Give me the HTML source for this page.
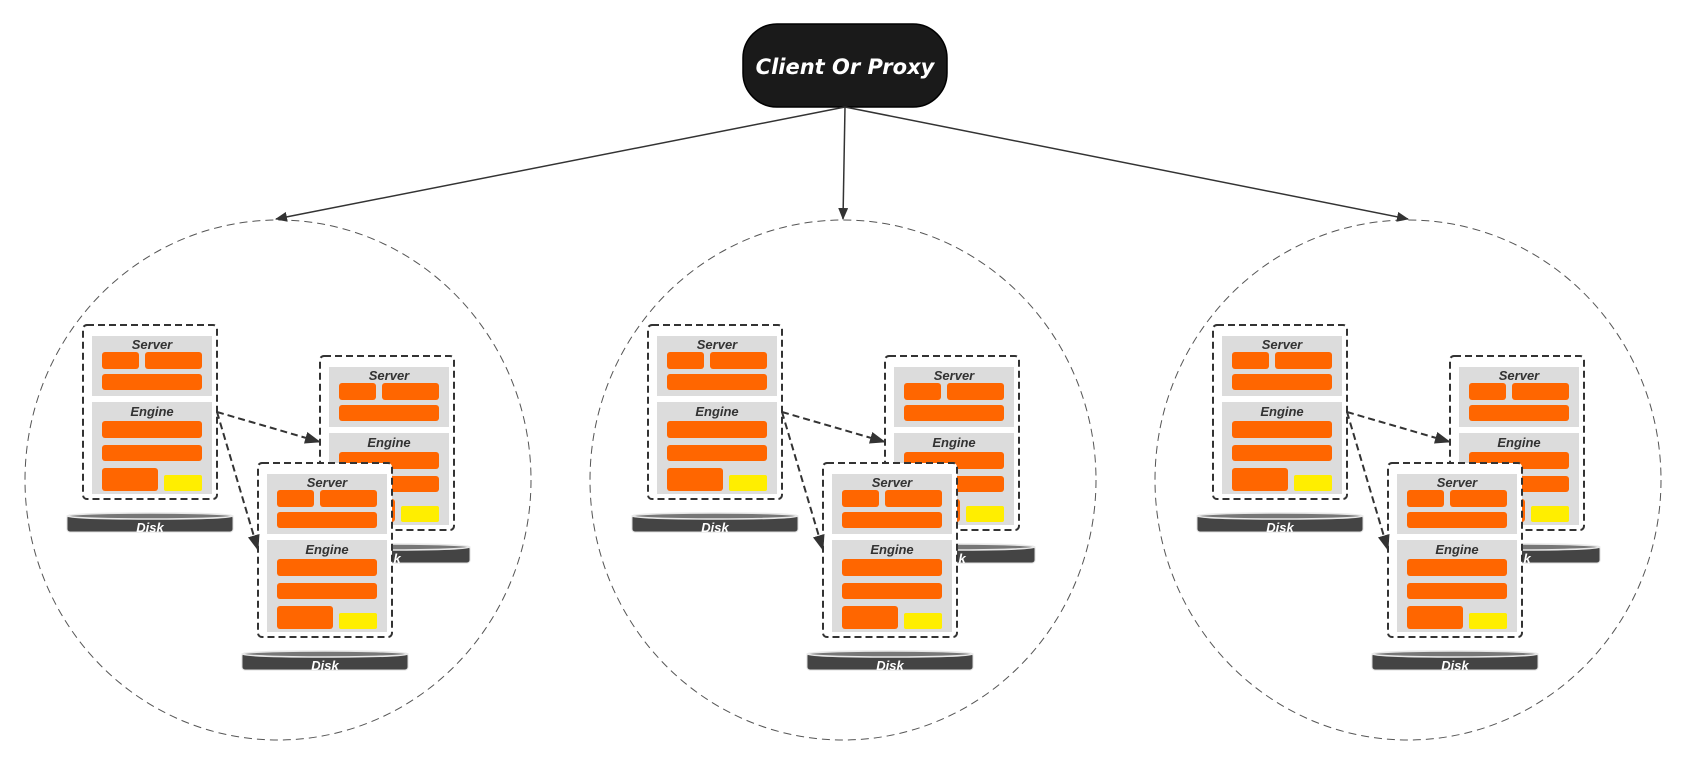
<!DOCTYPE html>
<html><head><meta charset="utf-8"><style>
html,body{margin:0;padding:0;background:#fff;}
svg{display:block;}
.t{font-family:"Liberation Sans",sans-serif;font-weight:bold;font-style:italic;font-size:13px;fill:#333;text-anchor:middle;}
.d{font-family:"Liberation Sans",sans-serif;font-weight:bold;font-style:italic;font-size:13px;fill:#fff;text-anchor:middle;}
.o{fill:#ff6600;}
.y{fill:#ffee00;}
.p{fill:#dcdcdc;}
.b{fill:#fff;stroke:#333;stroke-width:2;stroke-dasharray:7 4;}
.dk{fill:#444;stroke:#ddd;stroke-width:1;}
.rim{fill:#777;stroke:#e8e8e8;stroke-width:1.5;}
</style></head><body>
<svg width="1683" height="765" viewBox="0 0 1683 765" xmlns="http://www.w3.org/2000/svg">
<defs>
<marker id="a" markerWidth="12" markerHeight="10" refX="11" refY="5" orient="auto" markerUnits="userSpaceOnUse"><path d="M0,0 L12,5 L0,10 Z" fill="#333"/></marker>
<marker id="a2" markerWidth="16" markerHeight="12" refX="15" refY="6" orient="auto" markerUnits="userSpaceOnUse"><path d="M0,0 L16,6 L0,12 Z" fill="#333"/></marker>
</defs>

<ellipse cx="278" cy="480" rx="253" ry="260" fill="none" stroke="#555" stroke-width="1" stroke-dasharray="8 5"/>
<ellipse cx="843" cy="480" rx="253" ry="260" fill="none" stroke="#555" stroke-width="1" stroke-dasharray="8 5"/>
<ellipse cx="1408" cy="480" rx="253" ry="260" fill="none" stroke="#555" stroke-width="1" stroke-dasharray="8 5"/>

<rect x="743" y="24" width="204" height="83" rx="34" fill="#1a1a1a" stroke="#000" stroke-width="1.5"/>
<text x="845" y="74" font-family="DejaVu Sans, sans-serif" font-weight="bold" font-style="italic" font-size="21" fill="#fff" text-anchor="middle">Client Or Proxy</text>

<line x1="845" y1="107" x2="276" y2="219" stroke="#333" stroke-width="1.5" marker-end="url(#a)"/>
<line x1="845" y1="107" x2="843" y2="219" stroke="#333" stroke-width="1.5" marker-end="url(#a)"/>
<line x1="845" y1="107" x2="1408" y2="219" stroke="#333" stroke-width="1.5" marker-end="url(#a)"/>

<g transform="translate(83,325)">
<g><rect class="dk" x="-16" y="190" width="166" height="17" rx="3"/><ellipse class="rim" cx="67" cy="191" rx="83" ry="3"/><text class="d" x="67" y="207">Disk</text></g>
<g><rect class="b" x="0" y="0" width="134" height="174" rx="4"/><rect class="p" x="9" y="11" width="120" height="60"/><text class="t" x="69" y="24">Server</text><rect class="o" x="19" y="27" width="37" height="17" rx="3"/><rect class="o" x="62" y="27" width="57" height="17" rx="3"/><rect class="o" x="19" y="49" width="100" height="16" rx="3"/><rect class="p" x="9" y="77" width="120" height="92"/><text class="t" x="69" y="91">Engine</text><rect class="o" x="19" y="96" width="100" height="17" rx="3"/><rect class="o" x="19" y="120" width="100" height="16" rx="3"/><rect class="o" x="19" y="143" width="56" height="23" rx="3"/><rect class="y" x="81" y="150" width="38" height="16" rx="2"/></g>
<g transform="translate(237,31)"><rect class="dk" x="-16" y="190" width="166" height="17" rx="3"/><ellipse class="rim" cx="67" cy="191" rx="83" ry="3"/><text class="d" x="67" y="207">Disk</text><rect class="b" x="0" y="0" width="134" height="174" rx="4"/><rect class="p" x="9" y="11" width="120" height="60"/><text class="t" x="69" y="24">Server</text><rect class="o" x="19" y="27" width="37" height="17" rx="3"/><rect class="o" x="62" y="27" width="57" height="17" rx="3"/><rect class="o" x="19" y="49" width="100" height="16" rx="3"/><rect class="p" x="9" y="77" width="120" height="92"/><text class="t" x="69" y="91">Engine</text><rect class="o" x="19" y="96" width="100" height="17" rx="3"/><rect class="o" x="19" y="120" width="100" height="16" rx="3"/><rect class="o" x="19" y="143" width="56" height="23" rx="3"/><rect class="y" x="81" y="150" width="38" height="16" rx="2"/></g>
<g transform="translate(175,138)"><rect class="dk" x="-16" y="190" width="166" height="17" rx="3"/><ellipse class="rim" cx="67" cy="191" rx="83" ry="3"/><text class="d" x="67" y="207">Disk</text><rect class="b" x="0" y="0" width="134" height="174" rx="4"/><rect class="p" x="9" y="11" width="120" height="60"/><text class="t" x="69" y="24">Server</text><rect class="o" x="19" y="27" width="37" height="17" rx="3"/><rect class="o" x="62" y="27" width="57" height="17" rx="3"/><rect class="o" x="19" y="49" width="100" height="16" rx="3"/><rect class="p" x="9" y="77" width="120" height="92"/><text class="t" x="69" y="91">Engine</text><rect class="o" x="19" y="96" width="100" height="17" rx="3"/><rect class="o" x="19" y="120" width="100" height="16" rx="3"/><rect class="o" x="19" y="143" width="56" height="23" rx="3"/><rect class="y" x="81" y="150" width="38" height="16" rx="2"/></g>
<line x1="134" y1="87" x2="237" y2="117" stroke="#333" stroke-width="2" stroke-dasharray="7 4" marker-end="url(#a2)"/>
<line x1="134" y1="87" x2="175" y2="225" stroke="#333" stroke-width="2" stroke-dasharray="7 4" marker-end="url(#a2)"/>
</g>

<g transform="translate(648,325)">
<g><rect class="dk" x="-16" y="190" width="166" height="17" rx="3"/><ellipse class="rim" cx="67" cy="191" rx="83" ry="3"/><text class="d" x="67" y="207">Disk</text></g>
<g><rect class="b" x="0" y="0" width="134" height="174" rx="4"/><rect class="p" x="9" y="11" width="120" height="60"/><text class="t" x="69" y="24">Server</text><rect class="o" x="19" y="27" width="37" height="17" rx="3"/><rect class="o" x="62" y="27" width="57" height="17" rx="3"/><rect class="o" x="19" y="49" width="100" height="16" rx="3"/><rect class="p" x="9" y="77" width="120" height="92"/><text class="t" x="69" y="91">Engine</text><rect class="o" x="19" y="96" width="100" height="17" rx="3"/><rect class="o" x="19" y="120" width="100" height="16" rx="3"/><rect class="o" x="19" y="143" width="56" height="23" rx="3"/><rect class="y" x="81" y="150" width="38" height="16" rx="2"/></g>
<g transform="translate(237,31)"><rect class="dk" x="-16" y="190" width="166" height="17" rx="3"/><ellipse class="rim" cx="67" cy="191" rx="83" ry="3"/><text class="d" x="67" y="207">Disk</text><rect class="b" x="0" y="0" width="134" height="174" rx="4"/><rect class="p" x="9" y="11" width="120" height="60"/><text class="t" x="69" y="24">Server</text><rect class="o" x="19" y="27" width="37" height="17" rx="3"/><rect class="o" x="62" y="27" width="57" height="17" rx="3"/><rect class="o" x="19" y="49" width="100" height="16" rx="3"/><rect class="p" x="9" y="77" width="120" height="92"/><text class="t" x="69" y="91">Engine</text><rect class="o" x="19" y="96" width="100" height="17" rx="3"/><rect class="o" x="19" y="120" width="100" height="16" rx="3"/><rect class="o" x="19" y="143" width="56" height="23" rx="3"/><rect class="y" x="81" y="150" width="38" height="16" rx="2"/></g>
<g transform="translate(175,138)"><rect class="dk" x="-16" y="190" width="166" height="17" rx="3"/><ellipse class="rim" cx="67" cy="191" rx="83" ry="3"/><text class="d" x="67" y="207">Disk</text><rect class="b" x="0" y="0" width="134" height="174" rx="4"/><rect class="p" x="9" y="11" width="120" height="60"/><text class="t" x="69" y="24">Server</text><rect class="o" x="19" y="27" width="37" height="17" rx="3"/><rect class="o" x="62" y="27" width="57" height="17" rx="3"/><rect class="o" x="19" y="49" width="100" height="16" rx="3"/><rect class="p" x="9" y="77" width="120" height="92"/><text class="t" x="69" y="91">Engine</text><rect class="o" x="19" y="96" width="100" height="17" rx="3"/><rect class="o" x="19" y="120" width="100" height="16" rx="3"/><rect class="o" x="19" y="143" width="56" height="23" rx="3"/><rect class="y" x="81" y="150" width="38" height="16" rx="2"/></g>
<line x1="134" y1="87" x2="237" y2="117" stroke="#333" stroke-width="2" stroke-dasharray="7 4" marker-end="url(#a2)"/>
<line x1="134" y1="87" x2="175" y2="225" stroke="#333" stroke-width="2" stroke-dasharray="7 4" marker-end="url(#a2)"/>
</g>

<g transform="translate(1213,325)">
<g><rect class="dk" x="-16" y="190" width="166" height="17" rx="3"/><ellipse class="rim" cx="67" cy="191" rx="83" ry="3"/><text class="d" x="67" y="207">Disk</text></g>
<g><rect class="b" x="0" y="0" width="134" height="174" rx="4"/><rect class="p" x="9" y="11" width="120" height="60"/><text class="t" x="69" y="24">Server</text><rect class="o" x="19" y="27" width="37" height="17" rx="3"/><rect class="o" x="62" y="27" width="57" height="17" rx="3"/><rect class="o" x="19" y="49" width="100" height="16" rx="3"/><rect class="p" x="9" y="77" width="120" height="92"/><text class="t" x="69" y="91">Engine</text><rect class="o" x="19" y="96" width="100" height="17" rx="3"/><rect class="o" x="19" y="120" width="100" height="16" rx="3"/><rect class="o" x="19" y="143" width="56" height="23" rx="3"/><rect class="y" x="81" y="150" width="38" height="16" rx="2"/></g>
<g transform="translate(237,31)"><rect class="dk" x="-16" y="190" width="166" height="17" rx="3"/><ellipse class="rim" cx="67" cy="191" rx="83" ry="3"/><text class="d" x="67" y="207">Disk</text><rect class="b" x="0" y="0" width="134" height="174" rx="4"/><rect class="p" x="9" y="11" width="120" height="60"/><text class="t" x="69" y="24">Server</text><rect class="o" x="19" y="27" width="37" height="17" rx="3"/><rect class="o" x="62" y="27" width="57" height="17" rx="3"/><rect class="o" x="19" y="49" width="100" height="16" rx="3"/><rect class="p" x="9" y="77" width="120" height="92"/><text class="t" x="69" y="91">Engine</text><rect class="o" x="19" y="96" width="100" height="17" rx="3"/><rect class="o" x="19" y="120" width="100" height="16" rx="3"/><rect class="o" x="19" y="143" width="56" height="23" rx="3"/><rect class="y" x="81" y="150" width="38" height="16" rx="2"/></g>
<g transform="translate(175,138)"><rect class="dk" x="-16" y="190" width="166" height="17" rx="3"/><ellipse class="rim" cx="67" cy="191" rx="83" ry="3"/><text class="d" x="67" y="207">Disk</text><rect class="b" x="0" y="0" width="134" height="174" rx="4"/><rect class="p" x="9" y="11" width="120" height="60"/><text class="t" x="69" y="24">Server</text><rect class="o" x="19" y="27" width="37" height="17" rx="3"/><rect class="o" x="62" y="27" width="57" height="17" rx="3"/><rect class="o" x="19" y="49" width="100" height="16" rx="3"/><rect class="p" x="9" y="77" width="120" height="92"/><text class="t" x="69" y="91">Engine</text><rect class="o" x="19" y="96" width="100" height="17" rx="3"/><rect class="o" x="19" y="120" width="100" height="16" rx="3"/><rect class="o" x="19" y="143" width="56" height="23" rx="3"/><rect class="y" x="81" y="150" width="38" height="16" rx="2"/></g>
<line x1="134" y1="87" x2="237" y2="117" stroke="#333" stroke-width="2" stroke-dasharray="7 4" marker-end="url(#a2)"/>
<line x1="134" y1="87" x2="175" y2="225" stroke="#333" stroke-width="2" stroke-dasharray="7 4" marker-end="url(#a2)"/>
</g>
</svg>
</body></html>
